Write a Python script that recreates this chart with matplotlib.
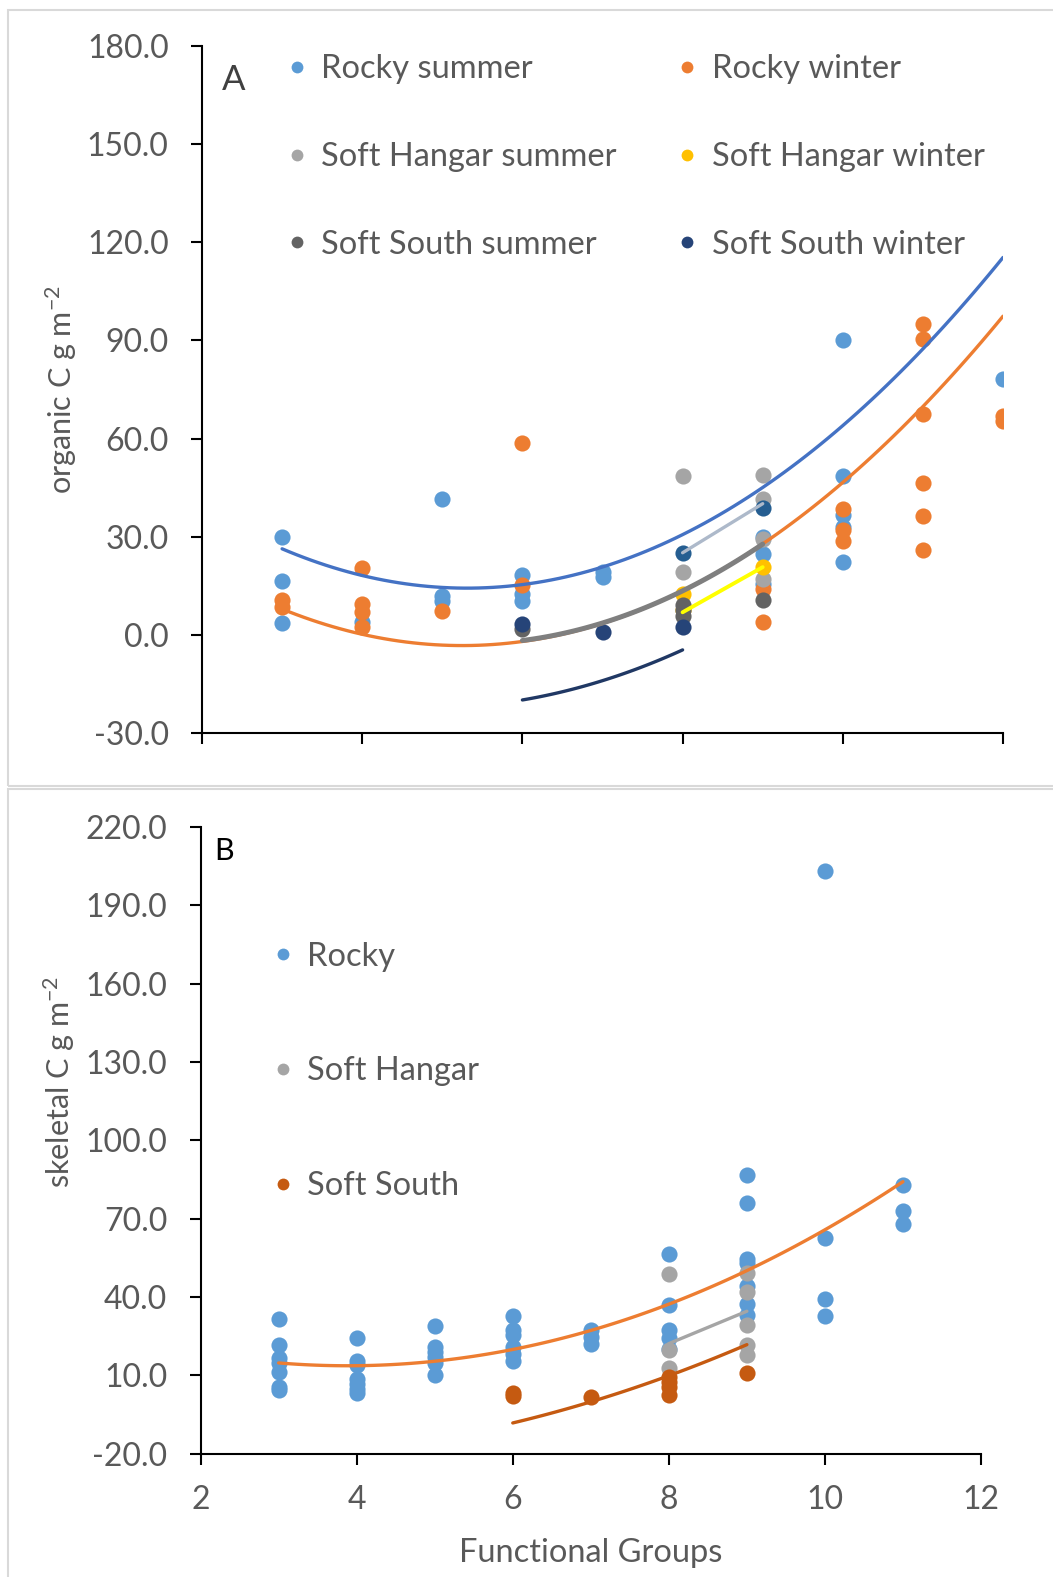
import numpy as np
import matplotlib.pyplot as plt
from matplotlib.lines import Line2D
from matplotlib.patches import Rectangle

plt.rcParams['font.family'] = ['Lato', 'DejaVu Sans']
plt.rcParams['mathtext.fontset'] = 'custom'
plt.rcParams['mathtext.rm'] = 'Lato'
plt.rcParams['mathtext.it'] = 'Lato'

# ---- panel A: organic C ----
rs_x = [3, 3, 3, 4, 5, 5, 5, 6, 6, 6, 7, 7, 9, 9, 9, 10, 10, 10, 10, 10, 12]
rs_y = [29.8, 16.6, 3.7, 3.9, 41.4, 11.8, 10.5, 18.3, 12.5, 10.3, 19.1, 17.6,
        29.8, 24.8, 15.6, 90.1, 48.7, 36.5, 33.1, 22.4, 78.1]
rw_x = [3, 3, 4, 4, 4, 4, 5, 6, 6, 9, 9, 10, 10, 10, 11, 11, 11, 11, 11, 11, 12, 12]
rw_y = [10.8, 8.4, 20.4, 9.3, 6.9, 2.3, 7.4, 58.5, 15.3, 14.1, 3.9, 38.5, 31.9, 28.6,
        95.0, 90.3, 67.5, 46.5, 36.3, 25.8, 67.0, 65.5]
shs_x = [8, 8, 9, 9, 9, 9]
shs_y = [48.7, 19.1, 49.0, 41.6, 29.4, 17.1]
shw_x = [8, 8, 9]
shw_y = [12.5, 7.5, 20.7]
sss_x = [6, 8, 8, 8, 9]
sss_y = [1.8, 9.0, 5.9, 7.5, 10.8]
ssw_x = [6, 7, 8]
ssw_y = [3.4, 1.0, 2.3]
extra_x = [8, 9]
extra_y = [25.1, 38.8]

# trendline coefficients (a, b, c) and x ranges
tr_rs = [2.257, -23.96, 77.87]
tr_rw = [2.209, -23.19, 57.59]
tr_sss = [2.233, -23.67, 59.9]
tr_shw = [0.0, 13.8, -103.5]
tr_ssw = [1.75, -16.85, 18.2]
tr_extra = [0.0, 15.0, -94.9]

# ---- panel B: skeletal C ----
rk_x = [3]*7 + [4]*7 + [5]*6 + [6]*6 + [7]*3 + [8]*5 + [9]*7 + [10]*4 + [11]*3
rk_y = [31.5, 21.5, 16.5, 14.5, 11.3, 5.5, 4.5,
        24.1, 15.5, 14.0, 8.7, 6.5, 4.8, 3.2,
        28.9, 20.9, 18.9, 16.8, 14.5, 10.0,
        32.7, 27.2, 25.3, 20.9, 18.0, 15.5,
        27.2, 24.5, 22.1,
        56.4, 36.8, 27.5, 24.4, 20.0,
        86.6, 76.0, 54.7, 52.8, 44.1, 37.2, 33.0,
        203.0, 62.5, 39.1, 32.6,
        82.8, 72.9, 67.9]
sh_x = [8, 8, 8, 9, 9, 9, 9, 9]
sh_y = [48.7, 19.8, 12.6, 49.0, 41.7, 29.2, 21.5, 17.7]
ss_x = [6, 6, 7, 8, 8, 8, 8, 9]
ss_y = [3.2, 2.0, 1.7, 9.4, 7.5, 5.5, 2.3, 10.9]

tr_rk = [1.392, -10.81, 34.6]
tr_sh = [0.0, 12.4, -77.1]
tr_ss = [0.95, -4.25, -17.0]

TXT = '#595959'
W, H = 1053, 1577
FS = 23.5
fig = plt.figure(figsize=(W / 100, H / 100), dpi=100)

# light gray panel frames
fig.patches.append(Rectangle((8 / W, 1 - 786 / H), 1.1, 776 / H, transform=fig.transFigure,
                             fill=False, ec='#D9D9D9', lw=1.5))
fig.patches.append(Rectangle((8 / W, -0.1), 1.1, 0.1 + 1 - 789 / H, transform=fig.transFigure,
                             fill=False, ec='#D9D9D9', lw=1.5))


def style(ax):
    for s in ['top', 'right']:
        ax.spines[s].set_visible(False)
    for s in ['left', 'bottom']:
        ax.spines[s].set_linewidth(1.5)
    ax.tick_params(direction='out', length=8, width=1.5, colors='black',
                   labelcolor=TXT, labelsize=23)
    ax.tick_params(axis='y', pad=16)
    ax.tick_params(axis='x', pad=15)


def trend(ax, coef, x0, x1, color, lw):
    xx = np.linspace(x0, x1, 100)
    ax.plot(xx, np.polyval(coef, xx), color=color, lw=lw, solid_capstyle='round', zorder=5)


S = 135
axA = fig.add_axes([202 / W, 1 - 733 / H, 801 / W, 687 / H])
style(axA)
axA.scatter(rs_x, rs_y, s=S, color='#5B9BD5', lw=0, label='Rocky summer')
axA.scatter(rw_x, rw_y, s=S, color='#ED7D31', lw=0, label='Rocky winter')
axA.scatter(shs_x, shs_y, s=S, color='#A5A5A5', lw=0, label='Soft Hangar summer')
axA.scatter(shw_x, shw_y, s=S, color='#FFC000', lw=0, label='Soft Hangar winter')
axA.scatter(sss_x, sss_y, s=S, color='#636363', lw=0, label='Soft South summer')
axA.scatter(ssw_x, ssw_y, s=S, color='#264478', lw=0, label='Soft South winter')
axA.scatter(extra_x, extra_y, s=S, color='#255E91', lw=0)
trend(axA, tr_rs, 3, 12, '#4472C4', 2.4)
trend(axA, tr_rw, 3, 12, '#ED7D31', 2.4)
trend(axA, tr_sss, 6, 9, '#7F7F7F', 3.6)
trend(axA, tr_shw, 8, 9, '#FFFF00', 2.8)
trend(axA, tr_ssw, 6, 8, '#203864', 2.4)
trend(axA, tr_extra, 8, 9, '#ADB9CA', 2.4)
axA.set_xlim(2, 12)
axA.set_ylim(-30, 180)
axA.set_xticks(np.arange(2, 13, 2))
axA.set_xticklabels([])
axA.set_yticks(np.arange(-30, 181, 30))
axA.set_yticklabels([f'{v:.1f}' for v in np.arange(-30, 181, 30)])
axA.set_ylabel('organic C g m$^{-2}$', fontsize=22, color=TXT)
axA.yaxis.set_label_coords(-0.153, 0.5)
axA.text(0.04, 0.95, 'A', transform=axA.transAxes, fontsize=25, color='#404040',
         ha='center', va='center')
names_A = ['Rocky summer', 'Rocky winter', 'Soft Hangar summer',
           'Soft Hangar winter', 'Soft South summer', 'Soft South winter']
cols_A = ['#5B9BD5', '#ED7D31', '#A5A5A5', '#FFC000', '#636363', '#264478']
hA = [Line2D([], [], ls='', marker='o', ms=8.5, mew=0, color=c) for c in cols_A]
# reorder for row-wise 2-column layout
order = [0, 2, 4, 1, 3, 5]
axA.legend([hA[i] for i in order], [names_A[i] for i in order], ncol=2, frameon=False,
           fontsize=FS, labelcolor=TXT, handlelength=0.6, handletextpad=0.45,
           labelspacing=1.77, columnspacing=1.85, loc='upper left',
           bbox_to_anchor=(0.09, 1.007), borderaxespad=0)

axB = fig.add_axes([200.6 / W, 1 - 1453.5 / H, 780.4 / W, 626.5 / H])
style(axB)
axB.scatter(rk_x, rk_y, s=S, color='#5B9BD5', lw=0, label='Rocky')
axB.scatter(sh_x, sh_y, s=S, color='#A5A5A5', lw=0, label='Soft Hangar')
axB.scatter(ss_x, ss_y, s=S, color='#C55A11', lw=0, label='Soft South')
trend(axB, tr_rk, 3, 11, '#ED7D31', 2.4)
trend(axB, tr_sh, 8, 9, '#A5A5A5', 2.4)
trend(axB, tr_ss, 6, 9, '#C55A11', 2.4)
axB.set_xlim(2, 12)
axB.set_ylim(-20, 220)
axB.set_xticks(np.arange(2, 13, 2))
axB.set_yticks(np.arange(-20, 221, 30))
axB.set_yticklabels([f'{v:.1f}' for v in np.arange(-20, 221, 30)])
axB.set_xlabel('Functional Groups', fontsize=FS, color=TXT, labelpad=16)
axB.set_ylabel('skeletal C g m$^{-2}$', fontsize=22, color=TXT)
axB.yaxis.set_label_coords(-0.158, 0.593)
axB.text(0.03, 0.962, 'B', transform=axB.transAxes, fontsize=22, color='black',
         ha='center', va='center')
hB = [Line2D([], [], ls='', marker='o', ms=8.5, mew=0, color=c)
      for c in ['#5B9BD5', '#A5A5A5', '#C55A11']]
axB.legend(hB, ['Rocky', 'Soft Hangar', 'Soft South'], frameon=False, fontsize=FS,
           labelcolor=TXT, handlelength=0.6, handletextpad=0.45, labelspacing=2.59,
           loc='upper left', bbox_to_anchor=(0.076, 0.8375), borderaxespad=0)

fig.savefig('out.png', dpi=100)
